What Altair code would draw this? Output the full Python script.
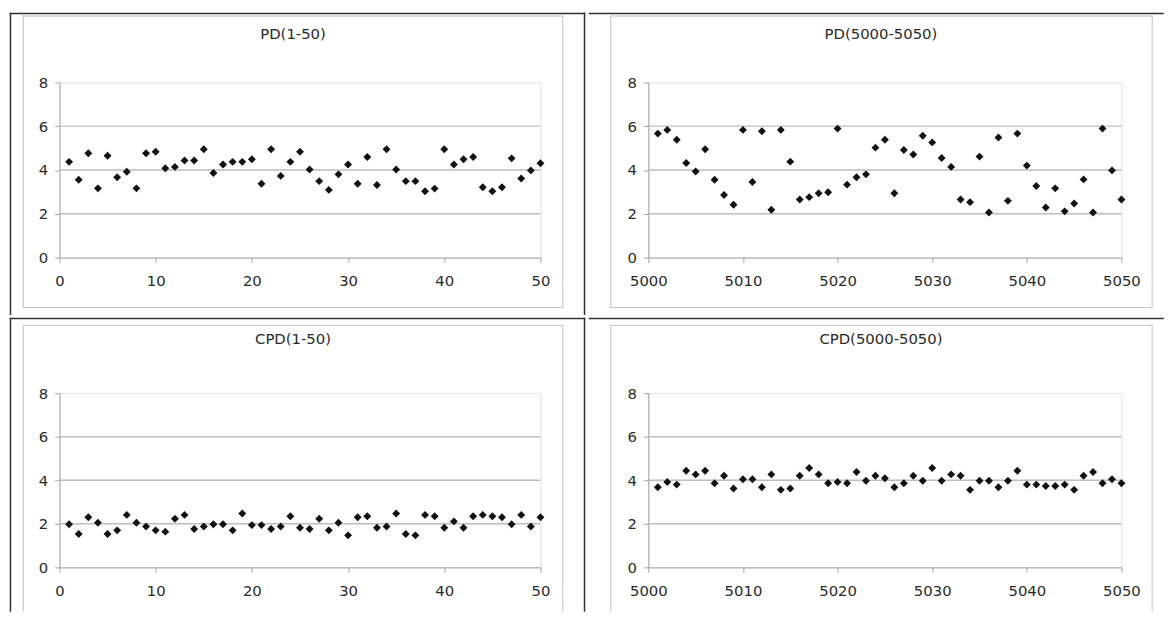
import altair as alt
import pandas as pd

# ---------------- data ----------------
idx_a = list(range(1, 51))
idx_b = list(range(5001, 5051))

pd_a = [4.37, 3.55, 4.76, 3.16, 4.65, 3.67, 3.92, 3.16, 4.76, 4.83,
        4.08, 4.14, 4.43, 4.43, 4.95, 3.86, 4.25, 4.37, 4.37, 4.49,
        3.37, 4.95, 3.73, 4.37, 4.83, 4.02, 3.49, 3.09, 3.80, 4.25,
        3.37, 4.59, 3.31, 4.95, 4.02, 3.49, 3.49, 3.03, 3.15, 4.95,
        4.25, 4.49, 4.59, 3.21, 3.03, 3.21, 4.53, 3.61, 3.98, 4.31]

pd_b = [5.66, 5.83, 5.38, 4.32, 3.93, 4.95, 3.55, 2.86, 2.41, 5.83,
        3.45, 5.77, 2.18, 5.83, 4.38, 2.65, 2.76, 2.94, 2.98, 5.89,
        3.33, 3.67, 3.80, 5.02, 5.38, 2.94, 4.91, 4.71, 5.56, 5.26,
        4.55, 4.14, 2.65, 2.53, 4.61, 2.06, 5.48, 2.59, 5.66, 4.20,
        3.27, 2.29, 3.16, 2.11, 2.47, 3.57, 2.06, 5.89, 3.98, 2.65]

cpd_a = [1.98, 1.53, 2.30, 2.05, 1.53, 1.70, 2.41, 2.05, 1.88, 1.70,
         1.64, 2.23, 2.41, 1.76, 1.88, 1.98, 1.98, 1.70, 2.47, 1.94,
         1.94, 1.76, 1.88, 2.35, 1.82, 1.76, 2.23, 1.70, 2.05, 1.47,
         2.30, 2.35, 1.82, 1.88, 2.47, 1.53, 1.47, 2.41, 2.35, 1.82,
         2.11, 1.82, 2.35, 2.41, 2.35, 2.30, 1.98, 2.41, 1.88, 2.30]

cpd_b = [3.68, 3.92, 3.80, 4.44, 4.27, 4.44, 3.86, 4.21, 3.62, 4.05,
         4.05, 3.68, 4.27, 3.56, 3.62, 4.21, 4.56, 4.27, 3.86, 3.92,
         3.86, 4.38, 3.98, 4.21, 4.09, 3.68, 3.86, 4.21, 3.98, 4.56,
         3.98, 4.27, 4.21, 3.56, 3.98, 3.98, 3.68, 3.98, 4.44, 3.80,
         3.80, 3.74, 3.74, 3.80, 3.56, 4.21, 4.38, 3.86, 4.05, 3.86]

titles = ["PD(1-50)", "PD(5000-5050)", "CPD(1-50)", "CPD(5000-5050)"]
y_ticks = [0, 2, 4, 6, 8]
grid_vals = [2, 4, 6]
x_ticks_a = [0, 10, 20, 30, 40, 50]
x_ticks_b = [5000, 5010, 5020, 5030, 5040, 5050]

# ---------------- styles ----------------
FONT = "DejaVu Sans"
TXT = "#2a2a2a"
GRID = "#bdbdbd"
FRAME = "#c2c2c2"
BLACK = "#303030"
AXISC = "#a4a4a4"
BW = 1.5

def _one():
    return alt.Data(values=[{}])

def hline(x1, x2, y, color, w):
    return alt.Chart(_one()).mark_rule(color=color, strokeWidth=w, strokeCap="square").encode(
        x=alt.value(x1), x2=alt.value(x2), y=alt.value(y))

def vline(x, y1, y2, color, w):
    return alt.Chart(_one()).mark_rule(color=color, strokeWidth=w, strokeCap="square").encode(
        x=alt.value(x), y=alt.value(y1), y2=alt.value(y2))

def panel(xs, ys, title, xdomain, xticks, width, height, dx, deco):
    df = pd.DataFrame({"n": xs, "v": ys})
    ysc = alt.Scale(domain=[0, 8], nice=False, zero=True)
    yaxis = alt.Axis(values=y_ticks, title=None, grid=False, labelPadding=7, tickSize=5)
    xenc = alt.X("n:Q", scale=alt.Scale(domain=xdomain, nice=False, zero=False),
                 axis=alt.Axis(values=xticks, format="d", title=None, grid=False,
                               labelPadding=11, tickSize=5, labelFlush=False))
    pts = alt.Chart(df).mark_point(shape="diamond", filled=True, size=64,
                                   color="#111111", opacity=1).encode(
        x=xenc, y=alt.Y("v:Q", scale=ysc, axis=yaxis))
    grid = alt.Chart(pd.DataFrame({"g": grid_vals})).mark_rule(
        color=GRID, strokeWidth=1.4).encode(y=alt.Y("g:Q", scale=ysc, axis=yaxis))
    return alt.layer(grid, pts, *deco).properties(
        width=width, height=height,
        title=alt.TitleParams(title, font=FONT, fontSize=15, color=TXT, fontWeight="normal",
                              anchor="middle", frame="group", dx=dx, offset=-30))

W1, W2 = 486, 478
H1, H2 = 177, 176

deco1 = [
    hline(-36.5, 508.5, -67, FRAME, 1), hline(-36.5, 508.5, 227.5, FRAME, 1),
    vline(-36.5, -67, 227.5, FRAME, 1), vline(508.5, -67, 227.5, FRAME, 1),
    hline(-49.5, 530.5, -69.5, BLACK, BW),
    vline(-49.5, -69.5, 234.25, BLACK, BW),
    vline(530.5, -69.5, 234.25, BLACK, BW),
]
deco2 = [
    hline(-38, 509, -67, FRAME, 1), hline(-38, 509, 227.5, FRAME, 1),
    vline(-38, -67, 227.5, FRAME, 1), vline(509, -67, 227.5, FRAME, 1),
    hline(-59.5, 520, -69.5, BLACK, BW),
]
deco3 = [
    hline(-36.5, 508.5, -68.5, FRAME, 1),
    vline(-36.5, -68.5, 220, FRAME, 1), vline(508.5, -68.5, 220, FRAME, 1),
    hline(-49.5, 530.5, -75.5, BLACK, BW),
    vline(-49.5, -75.5, 220, BLACK, BW),
    vline(530.5, -75.5, 220, BLACK, BW),
]
deco4 = [
    hline(-38, 509, -68.5, FRAME, 1),
    vline(-38, -68.5, 220, FRAME, 1), vline(509, -68.5, 220, FRAME, 1),
    hline(-59.5, 520, -75.5, BLACK, BW),
]

p1 = panel(idx_a, pd_a, titles[0], [0, 50], x_ticks_a, W1, H1, -7, deco1)
p2 = panel(idx_b, pd_b, titles[1], [5000, 5050], x_ticks_b, W2, H1, -4, deco2)
p3 = panel(idx_a, cpd_a, titles[2], [0, 50], x_ticks_a, W1, H2, -7, deco3)
p4 = panel(idx_b, cpd_b, titles[3], [5000, 5050], x_ticks_b, W2, H2, -4, deco4)

row1 = alt.hconcat(p1, p2, spacing=0)
row2 = alt.hconcat(p3, p4, spacing=0)

chart = alt.vconcat(row1, row2, spacing=0).properties(
    padding=0, background="white"
).configure_view(
    stroke="#e0e0e0", strokeWidth=1
).configure_axis(
    domainColor=AXISC, tickColor=AXISC, domainWidth=1, tickWidth=1,
    labelFont=FONT, labelFontSize=15, labelColor=TXT
)

chart.save("out.html", embed_options={"renderer": "svg", "actions": False})
